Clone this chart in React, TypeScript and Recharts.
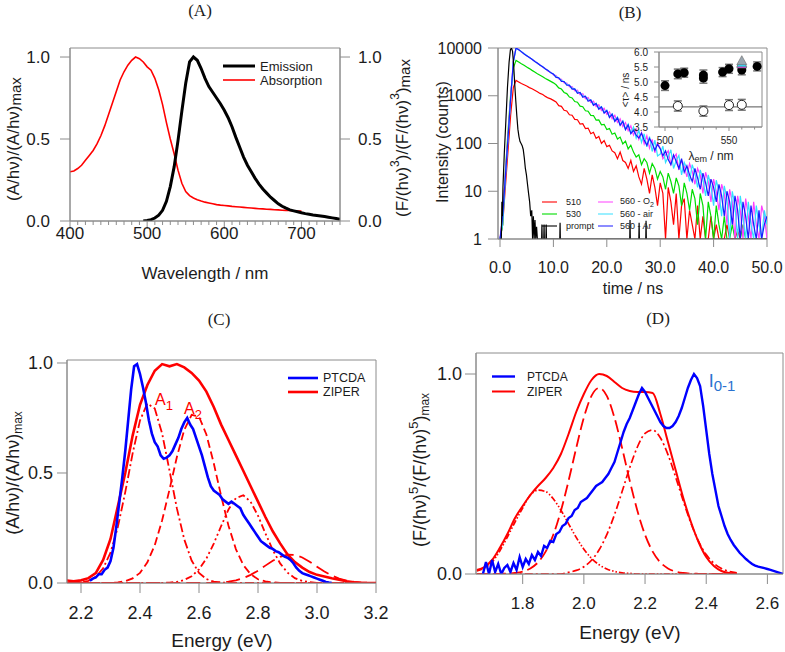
import React from "react";
import {
  LineChart,
  Line,
  XAxis,
  YAxis,
  ReferenceArea,
  ReferenceLine,
  Legend,
  ScatterChart,
  Scatter,
  ErrorBar,
} from "recharts";

const INK = "#1c1c1c";
const AXIS = "#8c8c8c";
const RED = "#ff0000";
const BLUE = "#0000ff";
const FONT = "'Liberation Sans', Arial, sans-serif";
const SERIF = "'Liberation Serif', 'Times New Roman', serif";

const grid = (start: number, step: number, n: number) =>
  Array.from({ length: n }, (_, i) => Math.round((start + i * step) * 1000) / 1000);
const pairs = (xs: number[], ys: number[]) => xs.map((x, i) => ({ x, y: ys[i] }));

// ---------- (A) absorption / emission spectra ----------
const absWavelength = grid(400, 5, 61);
const absorption = [
  0.30, 0.305, 0.32, 0.34, 0.37, 0.40, 0.43, 0.47, 0.52, 0.58,
  0.65, 0.72, 0.79, 0.86, 0.91, 0.95, 0.98, 1.0, 0.99, 0.97,
  0.94, 0.92, 0.87, 0.80, 0.71, 0.60, 0.50, 0.41, 0.31, 0.23,
  0.18, 0.155, 0.14, 0.13, 0.122, 0.115, 0.11, 0.105, 0.10, 0.097,
  0.095, 0.092, 0.089, 0.087, 0.085, 0.083, 0.081, 0.079, 0.077, 0.075,
  0.074, 0.072, 0.071, 0.069, 0.068, 0.066, 0.065, 0.064, 0.062, 0.061,
  0.06,
];
const emWavelength = grid(495, 5, 52);
const emission = [
  0, 0.003, 0.008, 0.018, 0.035, 0.065, 0.12, 0.21, 0.33, 0.49,
  0.67, 0.84, 0.97, 1.0, 0.98, 0.93, 0.87, 0.82, 0.785, 0.75,
  0.715, 0.675, 0.63, 0.575, 0.51, 0.45, 0.39, 0.34, 0.30, 0.26,
  0.225, 0.195, 0.17, 0.145, 0.125, 0.105, 0.09, 0.078, 0.068, 0.062,
  0.056, 0.05, 0.045, 0.041, 0.037, 0.034, 0.031, 0.027, 0.023, 0.019,
  0.015, 0.01,
];
const wavelengthTicks = grid(400, 10, 36);

// ---------- (B) fluorescence decays, 0.5 ns bins ----------
const decayTime = grid(0, 0.5, 101);
const decay510 = [
  1, 2, 12, 70, 400, 1500, 2100, 1950, 1800, 1700,
  1600, 1480, 1400, 1300, 1210, 1120, 1060, 970, 900, 860,
  800, 740, 620, 600, 495, 480, 400, 390, 320, 315,
  255, 260, 205, 210, 160, 172, 128, 140, 100, 115,
  86, 92, 70, 64, 48, 66, 44, 40, 30, 44,
  26, 34, 20, 14, 30, 18, 9, 22, 12, 5,
  15, 9, 1, 12, 6, 2, 9, 1, 5, 7,
  1, 4, 2, 1, 5, 1, 3, 1, 1, 3,
  1, 2, 1, 1, 1, 2, 1, 1, 1, 1.5,
  1, 1, 1, 1, 1, 1, 1, 1, 1, 1,
  1,
];
const decay530 = [
  1, 2, 25, 180, 1100, 3800, 5500, 5100, 4700, 4350,
  4000, 3700, 3400, 3150, 2900, 2700, 2500, 2300, 2150, 2000,
  1860, 1700, 1460, 1380, 1170, 1110, 940, 900, 755, 730,
  605, 590, 485, 475, 388, 385, 310, 312, 247, 252,
  196, 205, 156, 166, 124, 136, 98, 112, 77, 92,
  66, 52, 58, 36, 48, 40, 24, 38, 30, 18,
  26, 20, 11, 24, 16, 9, 19, 13, 5, 15,
  9, 4, 11, 7, 2, 9, 5, 1, 6, 3,
  1, 5, 2, 1, 3, 1, 1, 2, 1, 1,
  1, 2, 1, 1, 1, 1, 1, 1, 1, 1,
  1,
];
const decay560O2 = [
  1, 3, 22, 140, 950, 5400, 10000, 9400, 8200, 7700,
  6850, 6420, 5720, 5350, 4760, 4460, 3960, 3730, 3280, 3120,
  2740, 2640, 2250, 2210, 1850, 1850, 1530, 1560, 1270, 1310,
  1050, 1100, 870, 920, 720, 770, 595, 650, 490, 545,
  405, 460, 330, 390, 275, 330, 225, 275, 185, 235,
  150, 200, 122, 170, 98, 145, 80, 122, 64, 104,
  80, 48, 58, 70, 36, 50, 60, 28, 44, 34,
  20, 38, 26, 14, 30, 22, 9, 25, 16, 6,
  18, 10, 4, 14, 9, 2, 11, 6, 1, 8,
  4, 1, 7, 3, 1, 6, 2, 1, 5, 3,
  1,
];
const decay560Air = [
  1, 2, 18, 120, 850, 5000, 9800, 9250, 8350, 7650,
  6950, 6300, 5800, 5250, 4800, 4400, 4050, 3650, 3400, 3050,
  2830, 2520, 2350, 2100, 1960, 1740, 1640, 1440, 1380, 1190,
  1160, 990, 960, 820, 810, 670, 690, 550, 590, 450,
  500, 370, 420, 300, 360, 250, 300, 200, 255, 165,
  220, 130, 190, 105, 160, 85, 140, 68, 118, 55,
  60, 88, 40, 52, 74, 30, 44, 56, 22, 40,
  30, 16, 36, 24, 12, 28, 18, 8, 22, 13,
  5, 17, 10, 3, 13, 7, 1, 10, 5, 1,
  8, 3, 1, 6, 2, 1, 5, 2, 1, 4,
  2,
];
const decay560Ar = [
  1, 3, 20, 130, 900, 5200, 10000, 9200, 8400, 7500,
  6900, 6300, 5800, 5200, 4850, 4350, 4050, 3650, 3380, 3020,
  2850, 2420, 2380, 2000, 1990, 1660, 1670, 1380, 1390, 1130,
  1170, 930, 980, 770, 820, 630, 690, 520, 580, 430,
  490, 350, 410, 290, 345, 240, 290, 195, 245, 160,
  190, 150, 130, 165, 118, 92, 128, 100, 72, 96,
  78, 55, 70, 46, 36, 58, 42, 30, 48, 25,
  34, 22, 16, 30, 19, 11, 24, 15, 8, 18,
  12, 6, 14, 8, 3, 10, 6, 2, 8, 4,
  1, 6, 3, 1, 5, 2, 1, 4, 1, 2,
  3,
];
const promptTime = [
  0, 0.25, 0.35, 0.45, 0.55, 0.8, 1.1, 1.4, 1.7, 1.95,
  2.15, 2.35, 2.55, 2.75, 2.95, 3.15, 3.35, 3.55, 3.75, 3.95,
  4.15, 4.35, 4.55, 4.75, 4.95, 5.15, 5.35, 5.55, 5.75, 5.95,
  6.1, 6.25, 6.4, 6.55, 6.7, 6.85, 7.0, 7.8, 7.85, 7.9,
  8.2, 8.25, 8.3, 8.6, 8.65, 8.7, 11.2, 11.25, 11.3, 24.3,
  24.35, 24.4, 26.0, 26.05, 26.1, 27.3, 27.35, 27.4, 50,
];
const promptCounts = [
  1, 1, 6, 3, 12, 60, 300, 1500, 5000, 9200,
  10000, 8500, 4500, 1800, 800, 380, 200, 140, 110, 100,
  90, 75, 50, 30, 22, 14, 9, 6, 3, 4,
  1, 3, 1, 2.5, 1, 1.8, 1, 1, 2, 1,
  1, 2, 1, 1, 2, 1, 1, 2.2, 1, 1,
  2.5, 1, 1, 2.2, 1, 1, 2.4, 1, 1,
];

// inset: mean lifetime vs emission wavelength
const tauWavelength = [500, 510, 515, 530, 530, 545, 550, 560, 572];
const tauMean = [4.88, 5.27, 5.31, 5.13, 5.23, 5.33, 5.44, 5.4, 5.52];
const tauError = [0.16, 0.16, 0.15, 0.17, 0.17, 0.15, 0.15, 0.16, 0.15];
const tauOpenWavelength = [510, 530, 550, 560];
const tauOpen = [4.2, 4.03, 4.23, 4.24];
const tauOpenError = [0.17, 0.17, 0.18, 0.18];
const tauGasWavelength = [560, 560, 560];
const tauGas = [5.6, 5.64, 5.71];
const tauGasColor = ["#ff40ff", "#33e0ff", "#9aa6b0"];
const tauLevel = 4.17;

// ---------- (C) absorption and band components ----------
const energyC = grid(2.15, 0.025, 43);
const ziperAbs = [
  0.012, 0.008, 0.012, 0.022, 0.045, 0.105, 0.2, 0.35, 0.5, 0.67,
  0.81, 0.9, 0.965, 0.995, 0.985, 0.995, 0.98, 0.955, 0.92, 0.87,
  0.8, 0.72, 0.65, 0.58, 0.51, 0.44, 0.37, 0.3, 0.235, 0.18,
  0.13, 0.095, 0.07, 0.05, 0.037, 0.03, 0.022, 0.015, 0.008, 0.003,
  0.001, 0, 0,
];
const bandA1 = [
  0, 0.001, 0.003, 0.01, 0.028, 0.067, 0.138, 0.255, 0.413, 0.589,
  0.739, 0.816, 0.793, 0.679, 0.511, 0.339, 0.198, 0.102, 0.046, 0.018,
  0.006, 0.002, 0.001, 0, 0, 0, 0, 0, 0, 0,
  0, 0, 0, 0, 0, 0, 0, 0, 0, 0,
  0, 0, 0,
];
const bandA2 = [
  0, 0, 0, 0, 0, 0, 0, 0.003, 0.008, 0.021,
  0.046, 0.094, 0.172, 0.285, 0.425, 0.573, 0.696, 0.764, 0.756, 0.675,
  0.544, 0.396, 0.26, 0.154, 0.082, 0.04, 0.017, 0.007, 0.003, 0,
  0, 0, 0, 0, 0, 0, 0, 0, 0, 0,
  0, 0, 0,
];
const bandA3 = [
  0, 0, 0, 0, 0, 0, 0, 0, 0, 0,
  0, 0, 0, 0, 0.002, 0.005, 0.014, 0.031, 0.062, 0.111,
  0.179, 0.259, 0.334, 0.386, 0.399, 0.369, 0.306, 0.226, 0.15, 0.089,
  0.047, 0.022, 0.009, 0.004, 0.001, 0, 0, 0, 0, 0,
  0, 0, 0,
];
const bandA4 = [
  0, 0, 0, 0, 0, 0, 0, 0, 0, 0,
  0, 0, 0, 0, 0, 0, 0, 0, 0, 0,
  0.001, 0.003, 0.006, 0.012, 0.022, 0.037, 0.056, 0.079, 0.101, 0.119,
  0.129, 0.128, 0.116, 0.097, 0.074, 0.052, 0.034, 0.02, 0.011, 0.005,
  0.002, 0.001, 0,
];
const ptcdaEnergyC = grid(2.23, 0.01, 83);
const ptcdaAbs = [
  0.01, 0.02, 0.025, 0.04, 0.04, 0.06, 0.07, 0.1, 0.16, 0.26,
  0.37, 0.48, 0.6, 0.74, 0.88, 0.985, 0.995, 0.95, 0.89, 0.82,
  0.74, 0.68, 0.64, 0.62, 0.58, 0.565, 0.57, 0.58, 0.6, 0.63,
  0.66, 0.7, 0.73, 0.75, 0.72, 0.7, 0.66, 0.62, 0.58, 0.53,
  0.48, 0.44, 0.42, 0.41, 0.4, 0.38, 0.37, 0.36, 0.37, 0.36,
  0.35, 0.34, 0.31, 0.29, 0.27, 0.25, 0.23, 0.21, 0.19, 0.18,
  0.17, 0.16, 0.155, 0.145, 0.14, 0.13, 0.12, 0.115, 0.105, 0.09,
  0.07, 0.055, 0.045, 0.04, 0.035, 0.03, 0.025, 0.02, 0.015, 0.01,
  0.005, 0.002, 0,
];

// ---------- (D) emission and band components ----------
const energyD = grid(1.65, 0.025, 35);
const ziperEm = [
  0.02, 0.035, 0.07, 0.13, 0.2, 0.28, 0.34, 0.395, 0.44, 0.48,
  0.53, 0.6, 0.7, 0.81, 0.9, 0.97, 1.0, 0.99, 0.96, 0.93,
  0.915, 0.91, 0.91, 0.905, 0.8, 0.66, 0.52, 0.38, 0.26, 0.16,
  0.085, 0.04, 0.015, 0.005, 0,
];
const bandB1 = [
  0, 0, 0, 0.001, 0.002, 0.005, 0.012, 0.028, 0.058, 0.112,
  0.196, 0.316, 0.466, 0.63, 0.782, 0.891, 0.93, 0.891, 0.782, 0.63,
  0.466, 0.316, 0.196, 0.112, 0.058, 0.028, 0.012, 0.005, 0.002, 0.001,
  0, 0, 0, 0, 0,
];
const bandB2 = [
  0, 0, 0, 0, 0, 0, 0, 0, 0, 0,
  0, 0, 0.008, 0.018, 0.036, 0.069, 0.121, 0.197, 0.296, 0.412,
  0.532, 0.635, 0.703, 0.72, 0.681, 0.597, 0.485, 0.365, 0.254, 0.163,
  0.097, 0.054, 0.027, 0.013, 0.006,
];
const bandB3 = [
  0.015, 0.03, 0.06, 0.115, 0.185, 0.26, 0.33, 0.395, 0.419, 0.412,
  0.376, 0.319, 0.251, 0.183, 0.124, 0.078, 0.046, 0.025, 0.013, 0.006,
  0.003, 0, 0, 0, 0, 0, 0, 0, 0, 0,
  0, 0, 0, 0, 0,
];
const ptcdaEnergyD = grid(1.67, 0.01, 99);
const ptcdaEm = [
  0, 0.06, 0, 0.07, 0.01, 0.05, 0, 0.03, 0.045, 0.01,
  0.055, 0.02, 0.085, 0.035, 0.075, 0.05, 0.095, 0.07, 0.11, 0.09,
  0.14, 0.13, 0.165, 0.16, 0.2, 0.21, 0.24, 0.25, 0.28, 0.29,
  0.32, 0.33, 0.36, 0.37, 0.38, 0.4, 0.42, 0.44, 0.45, 0.46,
  0.48, 0.5, 0.53, 0.56, 0.61, 0.66, 0.71, 0.75, 0.78, 0.82,
  0.86, 0.9, 0.93, 0.91, 0.88, 0.85, 0.82, 0.79, 0.76, 0.74,
  0.73, 0.73, 0.74, 0.76, 0.79, 0.83, 0.88, 0.93, 0.97, 1.0,
  0.98, 0.94, 0.84, 0.72, 0.6, 0.5, 0.42, 0.34, 0.29, 0.24,
  0.2, 0.17, 0.145, 0.125, 0.105, 0.09, 0.075, 0.062, 0.05, 0.042,
  0.037, 0.033, 0.029, 0.025, 0.021, 0.016, 0.011, 0.006, 0,
];

// ---------- axis helpers ----------
type TickCfg = {
  size: number;
  pad: number;
  fs: number;
  fmt: (v: number) => string;
  minor?: number;
  isMajor?: (v: number) => boolean;
};

const tickBottom = (c: TickCfg) => (p: any) => {
  const v: number = p.payload.value;
  const major = c.isMajor ? c.isMajor(v) : true;
  return (
    <g>
      <line x1={p.x} x2={p.x} y1={p.y} y2={p.y + (major ? c.size : c.minor || 0)} stroke={AXIS} />
      {major && (
        <text x={p.x} y={p.y + c.pad} textAnchor="middle" dominantBaseline="central" fontSize={c.fs} fill={INK}>
          {c.fmt(v)}
        </text>
      )}
    </g>
  );
};

const tickLeft = (c: TickCfg) => (p: any) => (
  <g>
    <line x1={p.x - c.size} x2={p.x} y1={p.y} y2={p.y} stroke={AXIS} />
    <text x={p.x - c.pad} y={p.y} textAnchor="end" dominantBaseline="central" fontSize={c.fs} fill={INK}>
      {c.fmt(p.payload.value)}
    </text>
  </g>
);

const tickRight = (c: TickCfg) => (p: any) => (
  <g>
    <line x1={p.x} x2={p.x + c.size} y1={p.y} y2={p.y} stroke={AXIS} />
    <text x={p.x + c.pad} y={p.y} textAnchor="start" dominantBaseline="central" fontSize={c.fs} fill={INK}>
      {c.fmt(p.payload.value)}
    </text>
  </g>
);

const axisTitle = (x: number, y: number, fs: number, body: React.ReactNode, vertical = false) => () => (
  <text
    x={x}
    y={y}
    fontSize={fs}
    fill={INK}
    textAnchor="middle"
    dominantBaseline="central"
    transform={vertical ? `rotate(-90 ${x} ${y})` : undefined}
  >
    {body}
  </text>
);

const bare = { tickSize: 0, tickMargin: 0, tickLine: false, interval: 0 as const, allowDataOverflow: true };
const one = (v: number) => v.toFixed(1);

// ---------- legend helper ----------
type Key = { label: React.ReactNode; color: string; width: number; alpha?: number };
const keyBlock = (keys: Key[], len: number, gap: number, rowH: number, fs: number) => (
  <div style={{ fontSize: fs, lineHeight: 1, color: INK, fontFamily: FONT }}>
    {keys.map((k, i) => (
      <div key={i} style={{ display: "flex", alignItems: "center", height: rowH }}>
        <svg width={len} height={rowH} style={{ display: "block", flex: "none" }}>
          <line x1={0} x2={len} y1={rowH / 2} y2={rowH / 2} stroke={k.color} strokeWidth={k.width} strokeOpacity={k.alpha ?? 1} />
        </svg>
        <span style={{ marginLeft: gap, whiteSpace: "nowrap" }}>{k.label}</span>
      </div>
    ))}
  </div>
);

const Caption = ({ x, y, children, style }: { x: number; y: number; children: React.ReactNode; style?: React.CSSProperties }) => (
  <div
    style={{
      position: "absolute",
      left: x,
      top: y,
      transform: "translate(-50%, -50%)",
      whiteSpace: "nowrap",
      lineHeight: 1,
      ...style,
    }}
  >
    {children}
  </div>
);

const lineBase = { dot: false, activeDot: false, isAnimationActive: false, dataKey: "y" };

// ---------- panels ----------
function PanelA() {
  return (
    <div style={{ position: "absolute", left: 0, top: 0 }}>
      <LineChart width={420} height={300} margin={{ top: 48, right: 0, bottom: 19, left: 0 }}>
        <XAxis
          type="number"
          dataKey="x"
          domain={[400, 750]}
          ticks={wavelengthTicks}
          height={60}
          axisLine={{ stroke: AXIS }}
          {...bare}
          tick={tickBottom({ size: 8, minor: 4, pad: 12, fs: 17, fmt: String, isMajor: (v) => v % 100 === 0 })}
          label={axisTitle(205, 273, 17, "Wavelength / nm")}
        />
        <YAxis
          yAxisId="l"
          type="number"
          domain={[0, 1.055]}
          ticks={[0, 0.5, 1]}
          width={70}
          axisLine={{ stroke: AXIS }}
          {...bare}
          tick={tickLeft({ size: 10, pad: 20, fs: 17, fmt: one })}
          label={axisTitle(13, 139, 17, <>(A/hν)/(A/hν)<tspan fontSize={15} dy={2}>max</tspan></>, true)}
        />
        <YAxis
          yAxisId="r"
          orientation="right"
          type="number"
          domain={[0, 1.055]}
          ticks={[0, 0.5, 1]}
          width={80}
          axisLine={{ stroke: AXIS }}
          {...bare}
          tick={tickRight({ size: 10, pad: 18, fs: 17, fmt: one })}
          label={axisTitle(
            402,
            138,
            17,
            <>
              <tspan>(F/(hν)</tspan>
              <tspan dy={-7} fontSize={12}>3</tspan>
              <tspan dy={7}>)/(F/(hν)</tspan>
              <tspan dy={-7} fontSize={12}>3</tspan>
              <tspan dy={7}>)</tspan>
              <tspan fontSize={15} dy={2}>max</tspan>
            </>,
            true
          )}
        />
        <ReferenceArea yAxisId="l" x1={400} x2={750} y1={0} y2={1.055} fill="none" stroke={AXIS} />
        <Line {...lineBase} yAxisId="l" data={pairs(absWavelength, absorption)} stroke={RED} strokeWidth={1.6} />
        <Line {...lineBase} yAxisId="r" data={pairs(emWavelength, emission)} stroke="#000" strokeWidth={3} />
        <Legend
          layout="vertical"
          align="center"
          verticalAlign="middle"
          wrapperStyle={{ left: 223, top: 59, width: 130 }}
          content={() =>
            keyBlock(
              [
                { label: "Emission", color: "#000", width: 3 },
                { label: "Absorption", color: RED, width: 1.6 },
              ],
              32,
              5,
              14,
              13
            )
          }
        />
      </LineChart>
    </div>
  );
}

const decayKeys: Key[] = [
  { label: "510", color: RED, width: 2, alpha: 0.55 },
  { label: "530", color: "#00dd00", width: 2, alpha: 0.55 },
  { label: "prompt", color: "#000", width: 2, alpha: 0.55 },
  { label: <>560 - O<sub style={{ fontSize: 7 }}>2</sub></>, color: "#ff40ff", width: 2, alpha: 0.5 },
  { label: "560 - air", color: "#33e0ff", width: 2, alpha: 0.5 },
  { label: "560 - Ar", color: "#1a1aff", width: 2, alpha: 0.5 },
];

function PanelB() {
  return (
    <div style={{ position: "absolute", left: 420, top: 0 }}>
      <LineChart width={365} height={300} margin={{ top: 48, right: 18, bottom: 0, left: 0 }}>
        <XAxis
          type="number"
          dataKey="x"
          domain={[-0.375, 50]}
          ticks={[0, 10, 20, 30, 40, 50]}
          height={61}
          axisLine={{ stroke: AXIS }}
          {...bare}
          tick={tickBottom({ size: 8, pad: 28, fs: 16, fmt: one })}
          label={axisTitle(213, 288, 16, "time / ns")}
        />
        <YAxis
          type="number"
          scale="log"
          domain={[1, 10000]}
          ticks={[1, 10, 100, 1000, 10000]}
          width={78}
          axisLine={{ stroke: AXIS }}
          {...bare}
          tick={tickLeft({ size: 10, pad: 16, fs: 16, fmt: String })}
          label={axisTitle(22, 142, 16, "Intensity (counts)", true)}
        />
        <ReferenceArea x1={-0.375} x2={50} y1={1} y2={10000} fill="none" stroke={AXIS} />
        <Line {...lineBase} data={pairs(decayTime, decay510)} stroke={RED} strokeWidth={1.2} />
        <Line {...lineBase} data={pairs(decayTime, decay530)} stroke="#00dd00" strokeWidth={1.2} />
        <Line {...lineBase} data={pairs(decayTime, decay560O2)} stroke="#ff40ff" strokeWidth={1.2} />
        <Line {...lineBase} data={pairs(decayTime, decay560Air)} stroke="#33e0ff" strokeWidth={1.2} />
        <Line {...lineBase} data={pairs(decayTime, decay560Ar)} stroke="#1a1aff" strokeWidth={1.2} />
        <Line {...lineBase} data={pairs(promptTime, promptCounts)} stroke="#000" strokeWidth={1.2} />
        <Legend
          layout="vertical"
          align="center"
          verticalAlign="middle"
          wrapperStyle={{ left: 122, top: 196, width: 130 }}
          content={() => (
            <div style={{ display: "flex" }}>
              <div style={{ width: 56 }}>{keyBlock(decayKeys.slice(0, 3), 15, 9, 12, 9)}</div>
              {keyBlock(decayKeys.slice(3), 15, 7, 12, 9)}
            </div>
          )}
        />
      </LineChart>
    </div>
  );
}

const triangle = (p: any) => (
  <polygon
    points={`${p.cx},${p.cy - 5} ${p.cx - 5},${p.cy + 4} ${p.cx + 5},${p.cy + 4}`}
    fill={p.payload.c}
    stroke="#666"
    strokeWidth={0.6}
  />
);

function LifetimeInset() {
  const filled = tauWavelength.map((x, i) => ({ x, y: tauMean[i], e: tauError[i] }));
  const open = tauOpenWavelength.map((x, i) => ({ x, y: tauOpen[i], e: tauOpenError[i] }));
  const gas = tauGasWavelength.map((x, i) => ({ x, y: tauGas[i], c: tauGasColor[i] }));
  return (
    <div style={{ position: "absolute", left: 600, top: 40 }}>
      <ScatterChart width={175} height={130} margin={{ top: 12, right: 13, bottom: 0, left: 0 }}>
        <XAxis
          type="number"
          dataKey="x"
          domain={[495.3, 575.8]}
          ticks={grid(500, 10, 8)}
          height={43}
          axisLine={{ stroke: AXIS }}
          {...bare}
          tick={tickBottom({ size: 4, minor: 2.5, pad: 13, fs: 10, fmt: String, isMajor: (v) => v % 50 === 0 })}
          label={axisTitle(
            111,
            116,
            12,
            <>
              <tspan>λ</tspan>
              <tspan dy={3} fontSize={9}>em</tspan>
              <tspan dy={-3}> / nm</tspan>
            </>
          )}
        />
        <YAxis
          type="number"
          dataKey="y"
          domain={[3.5, 6]}
          ticks={grid(3.5, 0.5, 6)}
          width={59}
          axisLine={{ stroke: AXIS }}
          {...bare}
          tick={tickLeft({ size: 5, pad: 11, fs: 10, fmt: one })}
          label={axisTitle(25, 50, 10, "<τ> / ns", true)}
        />
        <ReferenceArea x1={495.3} x2={575.8} y1={3.5} y2={6} fill="#fff" fillOpacity={1} stroke={AXIS} />
        <ReferenceLine y={tauLevel} stroke="#555" />
        <Scatter data={open} fill="#fff" stroke="#222" strokeWidth={1} isAnimationActive={false}>
          <ErrorBar dataKey="e" direction="y" width={4} stroke="#777" />
        </Scatter>
        <Scatter data={filled} fill="#000" isAnimationActive={false}>
          <ErrorBar dataKey="e" direction="y" width={4} stroke="#777" />
        </Scatter>
        <Scatter data={gas} shape={triangle} isAnimationActive={false} />
      </ScatterChart>
    </div>
  );
}

function PanelC() {
  return (
    <div style={{ position: "absolute", left: 0, top: 300 }}>
      <LineChart width={420} height={352} margin={{ top: 60, right: 44, bottom: 0, left: 0 }}>
        <XAxis
          type="number"
          dataKey="x"
          domain={[2.1525, 3.2]}
          ticks={[2.2, 2.4, 2.6, 2.8, 3.0, 3.2]}
          height={69}
          axisLine={{ stroke: AXIS }}
          {...bare}
          tick={tickBottom({ size: 10, pad: 30, fs: 18, fmt: one })}
          label={axisTitle(222, 340, 19, "Energy (eV)")}
        />
        <YAxis
          type="number"
          domain={[0, 1.0136]}
          ticks={[0, 0.5, 1]}
          width={67}
          axisLine={{ stroke: AXIS }}
          {...bare}
          tick={tickLeft({ size: 10, pad: 14, fs: 18, fmt: one })}
          label={axisTitle(
            13,
            173,
            18,
            <>
              <tspan>(A/hν)/(A/hν)</tspan>
              <tspan dy={5} fontSize={12}>max</tspan>
            </>,
            true
          )}
        />
        <ReferenceArea x1={2.1525} x2={3.2} y1={0} y2={1.0136} fill="none" stroke={AXIS} />
        <Line {...lineBase} data={pairs(energyC, bandA1)} stroke={RED} strokeWidth={1.8} strokeDasharray="9 3 2 3" />
        <Line {...lineBase} data={pairs(energyC, bandA2)} stroke={RED} strokeWidth={1.8} strokeDasharray="8 4" />
        <Line {...lineBase} data={pairs(energyC, bandA3)} stroke={RED} strokeWidth={1.8} strokeDasharray="7 3 2 3 2 3" />
        <Line {...lineBase} data={pairs(energyC, bandA4)} stroke={RED} strokeWidth={1.8} strokeDasharray="14 6" />
        <Line {...lineBase} data={pairs(energyC, ziperAbs)} stroke={RED} strokeWidth={2.6} />
        <Line {...lineBase} data={pairs(ptcdaEnergyC, ptcdaAbs)} stroke={BLUE} strokeWidth={2.6} />
        <Legend
          layout="vertical"
          align="center"
          verticalAlign="middle"
          wrapperStyle={{ left: 288, top: 71, width: 100 }}
          content={() =>
            keyBlock(
              [
                { label: "PTCDA", color: BLUE, width: 2.6 },
                { label: "ZIPER", color: RED, width: 2.6 },
              ],
              30,
              5,
              14,
              12.5
            )
          }
        />
      </LineChart>
    </div>
  );
}

function PanelD() {
  return (
    <div style={{ position: "absolute", left: 400, top: 300 }}>
      <LineChart width={385} height={352} margin={{ top: 53, right: 2, bottom: 0, left: 0 }}>
        <XAxis
          type="number"
          dataKey="x"
          domain={[1.6474, 2.651]}
          ticks={[1.8, 2.0, 2.2, 2.4, 2.6]}
          height={78}
          axisLine={{ stroke: AXIS }}
          {...bare}
          tick={tickBottom({ size: 10, pad: 29, fs: 17, fmt: one })}
          label={axisTitle(230, 332, 19, "Energy (eV)")}
        />
        <YAxis
          type="number"
          domain={[0, 1.105]}
          ticks={[0, 1]}
          width={76}
          axisLine={{ stroke: AXIS }}
          {...bare}
          tick={tickLeft({ size: 11, pad: 14, fs: 18, fmt: one })}
          label={axisTitle(
            20,
            170,
            18,
            <>
              <tspan>(F/(hν)</tspan>
              <tspan dy={-7} fontSize={13}>5</tspan>
              <tspan dy={7}>/(F/(hν)</tspan>
              <tspan dy={-7} fontSize={13}>5</tspan>
              <tspan dy={7}>)</tspan>
              <tspan dy={5} fontSize={12}>max</tspan>
            </>,
            true
          )}
        />
        <ReferenceArea x1={1.6474} x2={2.651} y1={0} y2={1.105} fill="none" stroke={AXIS} />
        <Line {...lineBase} type="monotone" data={pairs(energyD, bandB3)} stroke={RED} strokeWidth={1.7} strokeDasharray="6 2 1.5 2 1.5 2" />
        <Line {...lineBase} type="monotone" data={pairs(energyD, bandB1)} stroke={RED} strokeWidth={1.8} strokeDasharray="12 5" />
        <Line {...lineBase} type="monotone" data={pairs(energyD, bandB2)} stroke={RED} strokeWidth={1.7} strokeDasharray="8 3 2 3" />
        <Line {...lineBase} type="monotone" data={pairs(energyD, ziperEm)} stroke={RED} strokeWidth={2} />
        <Line {...lineBase} data={pairs(ptcdaEnergyD, ptcdaEm)} stroke={BLUE} strokeWidth={2.4} />
        <Legend
          layout="vertical"
          align="center"
          verticalAlign="middle"
          wrapperStyle={{ left: 92, top: 69, width: 100 }}
          content={() =>
            keyBlock(
              [
                { label: "PTCDA", color: BLUE, width: 2.4 },
                { label: "ZIPER", color: RED, width: 2 },
              ],
              23,
              12,
              15,
              12
            )
          }
        />
      </LineChart>
    </div>
  );
}

export default function App() {
  return (
    <div
      style={{
        position: "absolute",
        left: 0,
        top: 0,
        width: 785,
        height: 652,
        background: "#fff",
        fontFamily: FONT,
        color: INK,
        overflow: "hidden",
      }}
    >
      <PanelA />
      <PanelB />
      <LifetimeInset />
      <PanelC />
      <PanelD />

      <Caption x={200} y={10} style={{ fontFamily: SERIF, fontSize: 17 }}>(A)</Caption>
      <Caption x={630} y={12} style={{ fontFamily: SERIF, fontSize: 17 }}>(B)</Caption>
      <Caption x={219} y={319} style={{ fontFamily: SERIF, fontSize: 17 }}>(C)</Caption>
      <Caption x={658} y={318} style={{ fontFamily: SERIF, fontSize: 17 }}>(D)</Caption>

      <Caption x={164} y={400} style={{ color: RED, fontSize: 16 }}>
        A<span style={{ fontSize: 13, position: "relative", top: 5 }}>1</span>
      </Caption>
      <Caption x={193} y={409} style={{ color: RED, fontSize: 16 }}>
        A<span style={{ fontSize: 13, position: "relative", top: 5 }}>2</span>
      </Caption>
      <Caption x={722} y={381} style={{ color: "#2a72d0", fontSize: 18 }}>
        I<span style={{ fontSize: 15, position: "relative", top: 4 }}>0-1</span>
      </Caption>
    </div>
  );
}
